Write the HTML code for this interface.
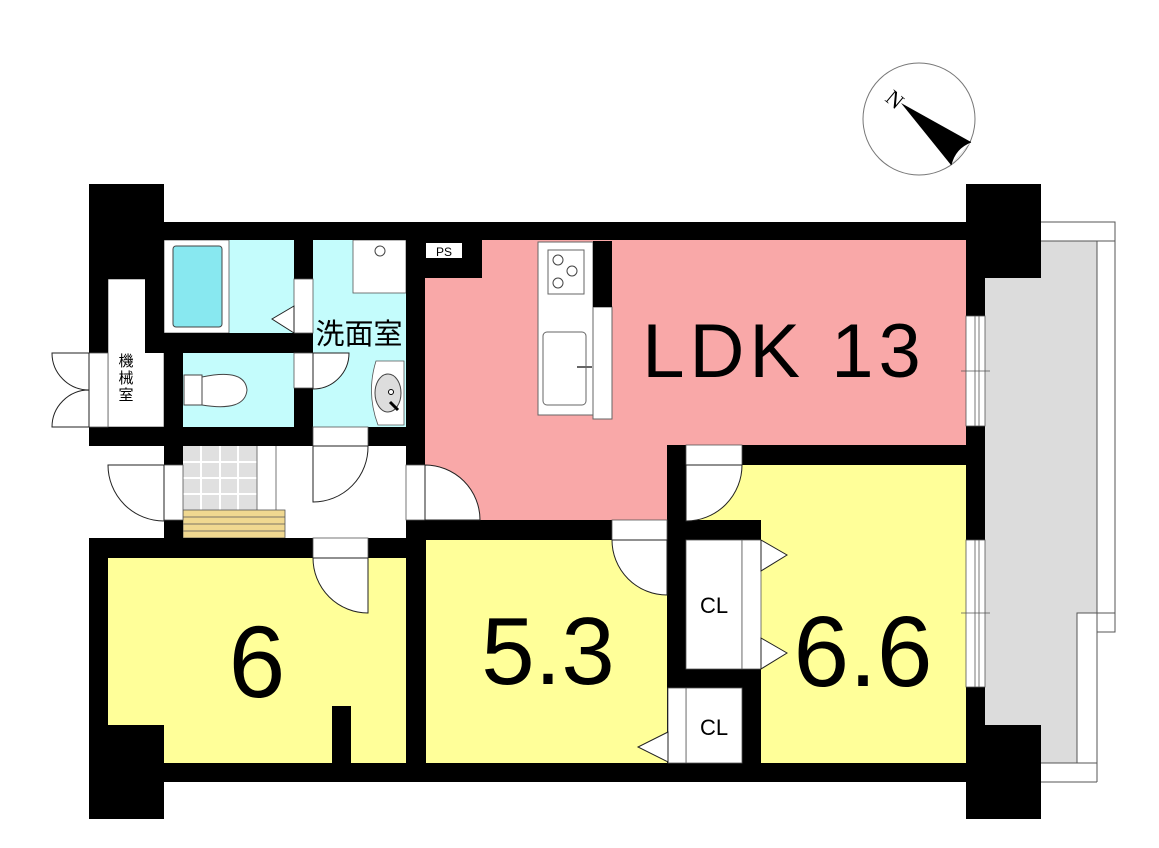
<!DOCTYPE html>
<html><head><meta charset="utf-8"><style>
html,body{margin:0;padding:0;background:#fff;}
svg{display:block;}
text{font-family:"Liberation Sans","Noto Sans CJK JP",sans-serif;}
</style></head><body>
<svg width="1159" height="848" viewBox="0 0 1159 848" xmlns="http://www.w3.org/2000/svg">
<rect width="1159" height="848" fill="#fff"/>
<circle cx="919" cy="119" r="56" fill="#fff" stroke="#777" stroke-width="1"/>
<polygon points="901,103 971,142 951,165" fill="#000"/>
<path d="M971,142 Q955,148 951,165" fill="#fff" stroke="#000"/>
<text x="884" y="100" font-size="22" transform="rotate(40 884 100)" fill="#000" style="font-family:'Liberation Serif',serif">N</text>

<rect x="985" y="278" width="92" height="485" fill="#dcdcdc"/>
<rect x="1041" y="241" width="56" height="372" fill="#dcdcdc"/>
<g stroke="#555" stroke-width="1" fill="none">
<polyline points="1041,222 1115,222 1115,632 1097,632"/>
<polyline points="1041,241 1097,241 1097,632"/>
<line x1="1097" y1="241" x2="1115" y2="241"/>
<polyline points="1115,613 1077,613 1077,763"/>
<line x1="1097" y1="613" x2="1097" y2="782"/>
<polyline points="1041,763 1097,763"/>
<polyline points="1041,782 1097,782"/>
</g>

<g fill="#f9a8a8">
<rect x="482" y="240" width="484" height="208"/>
<rect x="425" y="278" width="60" height="170"/>
<rect x="425" y="446" width="244" height="75"/>
</g>
<g fill="#ffff99">
<rect x="686" y="464" width="280" height="299"/>
<rect x="425" y="539" width="244" height="224"/>
<rect x="108" y="557" width="299" height="206"/>
</g>
<g fill="#c4fcfc">
<rect x="164" y="240" width="131" height="94"/>
<rect x="183" y="352" width="112" height="76"/>
<rect x="313" y="240" width="94" height="188"/>
</g>
<rect x="108" y="279" width="56" height="148" fill="#fff" stroke="#555" stroke-width="0.8"/>
<rect x="183" y="446" width="74" height="64" fill="#e0e0e0"/>
<g stroke="#fff" stroke-width="2">
<line x1="201" y1="446" x2="201" y2="510"/><line x1="220" y1="446" x2="220" y2="510"/><line x1="238" y1="446" x2="238" y2="510"/>
<line x1="183" y1="462" x2="257" y2="462"/><line x1="183" y1="478" x2="257" y2="478"/><line x1="183" y1="494" x2="257" y2="494"/>
</g>
<line x1="257" y1="446" x2="257" y2="510" stroke="#777"/>
<line x1="276" y1="446" x2="276" y2="510" stroke="#777"/>
<rect x="183" y="510" width="102" height="28" fill="#f0d890" stroke="#555" stroke-width="0.8"/>
<g stroke="#555" stroke-width="0.8"><line x1="183" y1="517" x2="285" y2="517"/><line x1="183" y1="524" x2="285" y2="524"/><line x1="183" y1="531" x2="285" y2="531"/></g>

<rect x="164" y="240" width="65" height="93" fill="#fff" stroke="#555" stroke-width="0.8"/>
<rect x="173" y="246" width="49" height="81" rx="3" fill="#88e8f0" stroke="#444" stroke-width="1"/>
<rect x="353" y="240" width="53" height="53" fill="#fff" stroke="#555" stroke-width="0.8"/>
<circle cx="380" cy="251" r="5" fill="#fff" stroke="#444"/>
<path d="M376,361 L404,361 L404,425 L378,425 Q366,393 376,361Z" fill="#fff" stroke="#555" stroke-width="0.8"/>
<ellipse cx="388" cy="393" rx="13" ry="19" fill="#ddd" stroke="#444"/>
<circle cx="391" cy="392" r="2.5" fill="#fff" stroke="#000"/>
<line x1="390" y1="402" x2="398" y2="410" stroke="#000" stroke-width="3"/>
<rect x="184" y="375" width="18" height="30" fill="#fff" stroke="#444"/>
<path d="M202,377 Q245,368 247,390 Q245,412 202,405Z" fill="#fff" stroke="#444"/>

<rect x="538" y="242" width="55" height="173" fill="#fff" stroke="#666"/>
<rect x="548" y="250" width="36" height="44" fill="#fff" stroke="#666"/>
<circle cx="558" cy="260" r="5" fill="none" stroke="#444"/><circle cx="572" cy="271" r="5" fill="none" stroke="#444"/><circle cx="558" cy="283" r="5" fill="none" stroke="#444"/>
<rect x="543" y="332" width="43" height="73" rx="4" fill="#fff" stroke="#666"/>
<line x1="577" y1="367" x2="592" y2="367" stroke="#666" stroke-width="2"/>
<rect x="593" y="307" width="19" height="112" fill="#fff" stroke="#666"/>

<g fill="#000">
<rect x="89" y="184" width="75" height="95"/>
<rect x="89" y="279" width="19" height="74"/>
<rect x="145" y="279" width="19" height="74"/>
<rect x="164" y="222" width="802" height="18"/>
<rect x="966" y="184" width="75" height="94"/>
<rect x="966" y="278" width="19" height="447"/>
<rect x="966" y="725" width="75" height="94"/>
<rect x="89" y="763" width="877" height="19"/>
<rect x="89" y="725" width="75" height="94"/>
<rect x="89" y="538" width="19" height="224"/>
<rect x="89" y="427" width="317" height="19"/>
<rect x="164" y="353" width="19" height="112"/>
<rect x="164" y="520" width="19" height="38"/>
<rect x="145" y="333" width="168" height="20"/>
<rect x="294" y="240" width="19" height="39"/>
<rect x="294" y="388" width="19" height="40"/>
<rect x="406" y="240" width="19" height="225"/>
<rect x="406" y="520" width="20" height="243"/>
<rect x="425" y="240" width="57" height="38"/>
<rect x="89" y="538" width="336" height="20"/>
<rect x="406" y="520" width="261" height="20"/>
<rect x="667" y="445" width="19" height="318"/>
<rect x="667" y="445" width="299" height="20"/>
<rect x="686" y="520" width="75" height="20"/>
<rect x="686" y="669" width="56" height="19"/>
<rect x="742" y="669" width="19" height="94"/>
<rect x="332" y="706" width="19" height="58"/>
<rect x="593" y="241" width="19" height="66"/>
</g>

<g fill="#fff" stroke="#555" stroke-width="0.8">
<rect x="294" y="279" width="19" height="54"/>
<rect x="294" y="353" width="19" height="35"/>
<rect x="313" y="427" width="55" height="19"/>
<rect x="313" y="538" width="55" height="20"/>
<rect x="164" y="465" width="19" height="55"/>
<rect x="406" y="465" width="19" height="55"/>
<rect x="612" y="520" width="55" height="20"/>
<rect x="686" y="445" width="56" height="20"/>
<rect x="89" y="353" width="19" height="74"/>
<rect x="966" y="316" width="19" height="110"/>
<rect x="966" y="540" width="19" height="147"/>
<rect x="686" y="540" width="56" height="129"/>
<rect x="742" y="540" width="19" height="129"/>
<rect x="686" y="688" width="56" height="75"/>
<rect x="668" y="688" width="18" height="75"/>
<rect x="426" y="243" width="36" height="15" stroke="none"/>
</g>
<g stroke="#555" stroke-width="0.8" fill="none">
<line x1="975" y1="316" x2="975" y2="426"/><line x1="979" y1="316" x2="979" y2="426"/>
<line x1="961" y1="371" x2="990" y2="371"/>
<line x1="975" y1="540" x2="975" y2="687"/><line x1="979" y1="540" x2="979" y2="687"/>
<line x1="961" y1="613" x2="990" y2="613"/>
</g>

<g stroke="#222" stroke-width="1" fill="#fff">
<path d="M313,446 L313,502 A55,55 0 0 0 368,446Z"/>
<path d="M313,353 L349,353 A36,36 0 0 1 313,389Z"/>
<path d="M164,465 L108,465 A56,56 0 0 0 164,521Z"/>
<path d="M425,520 L425,465 A55,55 0 0 1 480,520Z"/>
<path d="M368,558 L368,613 A55,55 0 0 1 313,558Z"/>
<path d="M667,540 L667,595 A55,55 0 0 1 612,540Z"/>
<path d="M686,465 L686,521 A56,56 0 0 0 742,465Z"/>
<path d="M89,353 L52,353 A37,37 0 0 0 89,390Z"/>
<path d="M89,427 L52,427 A37,37 0 0 1 89,390Z"/>
<polygon points="294,306 272,319 294,333"/>
<polygon points="761,540 787,555 761,571"/>
<polygon points="761,638 787,653 761,669"/>
<polygon points="668,732 638,747 668,762"/>
</g>

<text x="444" y="256" font-size="12" text-anchor="middle" fill="#000">PS</text>
<text x="359" y="344" font-size="29" text-anchor="middle" fill="#000">洗面室</text>
<text x="126" y="366" font-size="15" text-anchor="middle" fill="#000">機</text>
<text x="126" y="383" font-size="15" text-anchor="middle" fill="#000">械</text>
<text x="126" y="400" font-size="15" text-anchor="middle" fill="#000">室</text>
<text x="784" y="377" font-size="76" text-anchor="middle" letter-spacing="5" fill="#000">LDK 13</text>
<text x="257" y="697" font-size="102" text-anchor="middle" fill="#000">6</text>
<text x="548" y="684" font-size="96" text-anchor="middle" fill="#000">5.3</text>
<text x="863" y="686" font-size="100" text-anchor="middle" fill="#000">6.6</text>
<text x="714" y="613" font-size="22" text-anchor="middle" fill="#000">CL</text>
<text x="714" y="735" font-size="22" text-anchor="middle" fill="#000">CL</text>
</svg>
</body></html>
